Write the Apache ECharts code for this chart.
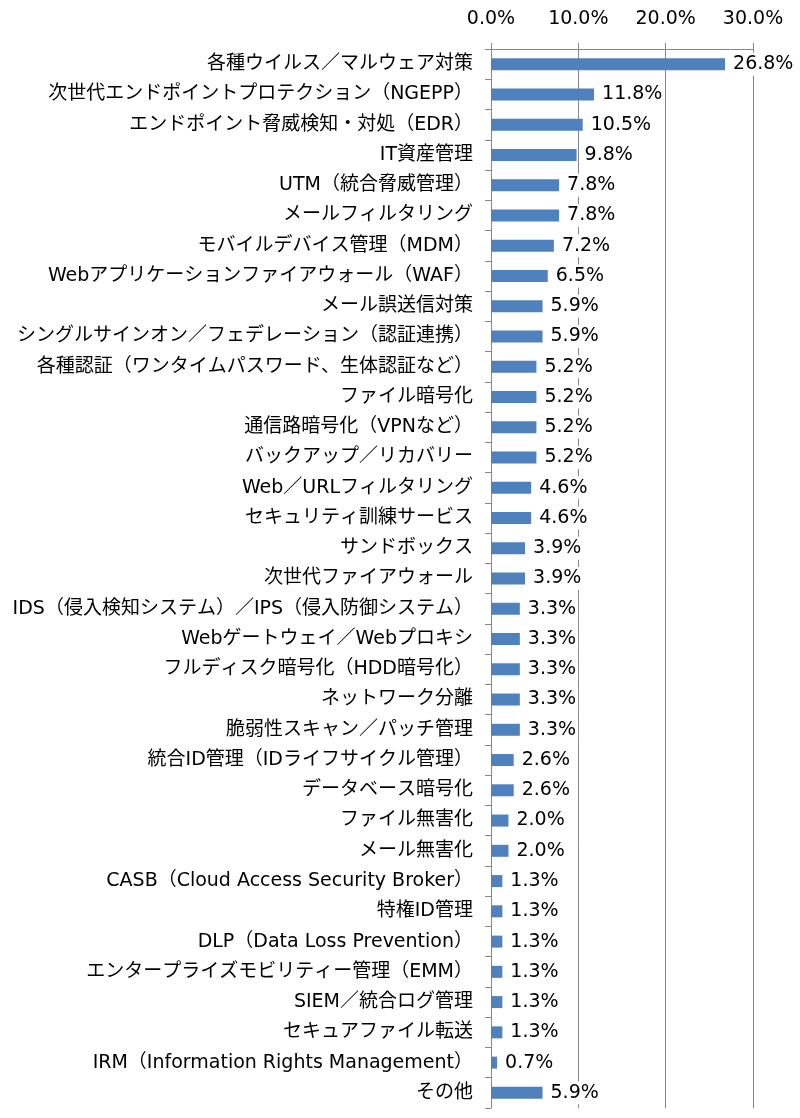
<!DOCTYPE html>
<html lang="ja">
<head>
<meta charset="UTF-8">
<title>セキュリティ製品 導入予定</title>
<script src="https://cdn.jsdelivr.net/npm/echarts@6/dist/echarts.min.js"></script>
<style>
  html, body { margin: 0; padding: 0; background: #fff; }
  #main { width: 800px; height: 1118px; }
</style>
</head>
<body>
<div id="main"></div>
<script type="text/javascript">
// カテゴリ（上から順）
var categories = [
  '各種ウイルス／マルウェア対策',
  '次世代エンドポイントプロテクション（NGEPP）',
  'エンドポイント脅威検知・対処（EDR）',
  'IT資産管理',
  'UTM（統合脅威管理）',
  'メールフィルタリング',
  'モバイルデバイス管理（MDM）',
  'Webアプリケーションファイアウォール（WAF）',
  'メール誤送信対策',
  'シングルサインオン／フェデレーション（認証連携）',
  '各種認証（ワンタイムパスワード、生体認証など）',
  'ファイル暗号化',
  '通信路暗号化（VPNなど）',
  'バックアップ／リカバリー',
  'Web／URLフィルタリング',
  'セキュリティ訓練サービス',
  'サンドボックス',
  '次世代ファイアウォール',
  'IDS（侵入検知システム）／IPS（侵入防御システム）',
  'Webゲートウェイ／Webプロキシ',
  'フルディスク暗号化（HDD暗号化）',
  'ネットワーク分離',
  '脆弱性スキャン／パッチ管理',
  '統合ID管理（IDライフサイクル管理）',
  'データベース暗号化',
  'ファイル無害化',
  'メール無害化',
  'CASB（Cloud Access Security Broker）',
  '特権ID管理',
  'DLP（Data Loss Prevention）',
  'エンタープライズモビリティー管理（EMM）',
  'SIEM／統合ログ管理',
  'セキュアファイル転送',
  'IRM（Information Rights Management）',
  'その他'
];

// 割合（%）
var values = [
  26.8, 11.8, 10.5, 9.8, 7.8, 7.8, 7.2, 6.5, 5.9, 5.9,
  5.2, 5.2, 5.2, 5.2, 4.6, 4.6, 3.9, 3.9, 3.3, 3.3,
  3.3, 3.3, 3.3, 2.6, 2.6, 2.0, 2.0, 1.3, 1.3, 1.3,
  1.3, 1.3, 1.3, 0.7, 5.9
];

// 横軸
var axisMin = 0;
var axisMax = 30;
var axisStep = 10;

var fontFamily = '"DejaVu Sans", "Noto Sans CJK JP", sans-serif';
var gray = '#868686';

var myChart = echarts.init(document.getElementById('main'));

myChart.setOption({
  animation: false,
  backgroundColor: '#fff',
  textStyle: { fontFamily: fontFamily },
  grid: { left: 491, right: 47, top: 49, bottom: 10, containLabel: false },
  xAxis: {
    type: 'value',
    position: 'top',
    min: axisMin,
    max: axisMax,
    interval: axisStep,
    axisLine: { show: true, lineStyle: { color: gray, width: 1 } },
    axisTick: { show: true, length: 6, lineStyle: { color: gray } },
    splitLine: { show: true, lineStyle: { color: gray, width: 1 } },
    axisLabel: {
      margin: 20,
      color: '#000',
      fontSize: 19,
      fontFamily: fontFamily,
      formatter: function (v) { return v.toFixed(1) + '%'; }
    }
  },
  yAxis: {
    type: 'category',
    inverse: true,
    data: categories,
    axisLine: { show: true, lineStyle: { color: gray, width: 1 } },
    axisTick: { show: true, length: 6, alignWithLabel: false, lineStyle: { color: gray } },
    axisLabel: {
      margin: 18,
      color: '#000',
      fontSize: 19,
      fontFamily: fontFamily,
      interval: 0
    }
  },
  series: [{
    type: 'bar',
    data: values,
    barWidth: 12,
    itemStyle: { color: '#4F81BD' },
    label: {
      show: true,
      position: 'right',
      distance: 6,
      color: '#000',
      fontSize: 19,
      fontFamily: fontFamily,
      backgroundColor: '#fff',
      padding: [2, 2],
      formatter: function (p) { return p.value.toFixed(1) + '%'; }
    }
  }]
});
</script>
</body>
</html>
